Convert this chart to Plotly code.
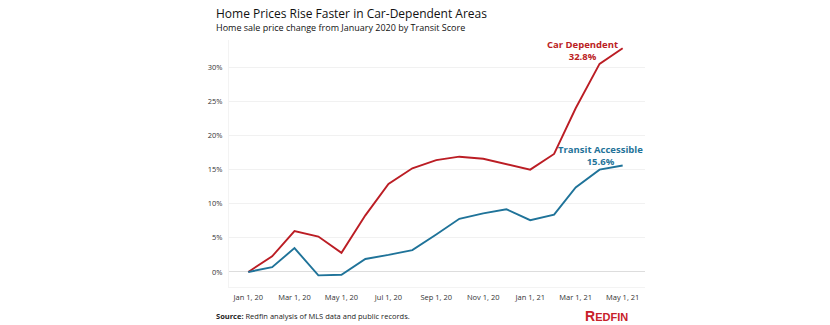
import plotly.graph_objects as go

months = ["2020-01-01", "2020-02-01", "2020-03-01", "2020-04-01", "2020-05-01", "2020-06-01",
          "2020-07-01", "2020-08-01", "2020-09-01", "2020-10-01", "2020-11-01", "2020-12-01",
          "2021-01-01", "2021-02-01", "2021-03-01", "2021-04-01", "2021-05-01"]
car_dependent = [0.0, 2.3, 6.0, 5.2, 2.8, 8.3, 12.9, 15.2, 16.4, 16.9, 16.6, 15.8,
                 15.0, 17.3, 24.0, 30.5, 32.8]
transit_accessible = [0.0, 0.7, 3.5, -0.5, -0.4, 1.9, 2.5, 3.2, 5.5, 7.8, 8.6, 9.2,
                      7.6, 8.4, 12.4, 15.0, 15.6]
y_ticks = [0, 5, 10, 15, 20, 25, 30]
y_tick_labels = ["0%", "5%", "10%", "15%", "20%", "25%", "30%"]

RED = "#BB1D24"
BLUE = "#1F7399"
FONT = "Open Sans"

L, R, T, B = 229, 185, 40, 38
PW = 830 - L - R

fig = go.Figure()
fig.add_trace(go.Scatter(x=months, y=car_dependent, mode="lines",
                         line=dict(color=RED, width=1.9), name="Car Dependent"))
fig.add_trace(go.Scatter(x=months, y=transit_accessible, mode="lines",
                         line=dict(color=BLUE, width=1.9), name="Transit Accessible"))

fig.add_annotation(x=months[-1], y=car_dependent[-1], xref="x", yref="y",
                   text="<b>Car Dependent<br>%.1f%%</b>" % car_dependent[-1],
                   showarrow=False, xanchor="center", yanchor="bottom",
                   xshift=-40, yshift=-17, align="center",
                   font=dict(family=FONT, size=9.5, color=RED))
fig.add_annotation(x=months[-1], y=transit_accessible[-1], xref="x", yref="y",
                   text="<b>Transit Accessible<br>%.1f%%</b>" % transit_accessible[-1],
                   showarrow=False, xanchor="center", yanchor="bottom",
                   xshift=-22, yshift=-4, align="center",
                   font=dict(family=FONT, size=9.5, color=BLUE))

# title and subtitle
fig.add_annotation(x=(214 - L) / PW, y=1, xref="paper", yref="paper",
                   xanchor="left", yanchor="middle", yshift=27, showarrow=False,
                   text="Home Prices Rise Faster in Car-Dependent Areas",
                   font=dict(family=FONT, size=12, color="#111111"))
fig.add_annotation(x=(214 - L) / PW, y=1, xref="paper", yref="paper",
                   xanchor="left", yanchor="middle", yshift=13, showarrow=False,
                   text="Home sale price change from January 2020 by Transit Score",
                   font=dict(family=FONT, size=9, color="#111111"))

# footer
fig.add_annotation(x=(214 - L) / PW, y=0, xref="paper", yref="paper",
                   xanchor="left", yanchor="middle", yshift=-29, showarrow=False,
                   text="<b>Source:</b> Redfin analysis of MLS data and public records.",
                   font=dict(family=FONT, size=7.5, color="#222222"))
fig.add_annotation(x=(630 - L) / PW, y=0, xref="paper", yref="paper",
                   xanchor="right", yanchor="middle", yshift=-29, showarrow=False,
                   text="<b>R<span style='font-size:11px'>EDFIN</span></b>",
                   font=dict(family="Liberation Sans", size=14, color="#C8202A"))

fig.update_layout(
    width=830, height=325,
    margin=dict(l=L, r=R, t=T, b=B),
    paper_bgcolor="white", plot_bgcolor="white",
    showlegend=False,
    font=dict(family=FONT, size=8, color="#333333"),
    xaxis=dict(
        type="date",
        range=["2019-12-07", "2021-05-30"],
        tickformat="%b %-d, %y",
        dtick="M2", tick0="2020-01-01",
        showgrid=False, zeroline=False,
        showline=True, linecolor="#f3f3f3", linewidth=1,
        ticks="", ticklabelstandoff=3,
        tickfont=dict(size=7.5, color="#333333"),
    ),
    yaxis=dict(
        range=[-2.2, 34.0],
        tickvals=y_ticks, ticktext=y_tick_labels,
        showgrid=True, gridcolor="#f1f1f1", gridwidth=1,
        zeroline=True, zerolinecolor="#dddddd", zerolinewidth=1,
        showline=True, linecolor="#f3f3f3", linewidth=1,
        ticks="", ticklabelstandoff=4,
        tickfont=dict(size=7.5, color="#333333"),
    ),
)

fig.write_html("out.html")
